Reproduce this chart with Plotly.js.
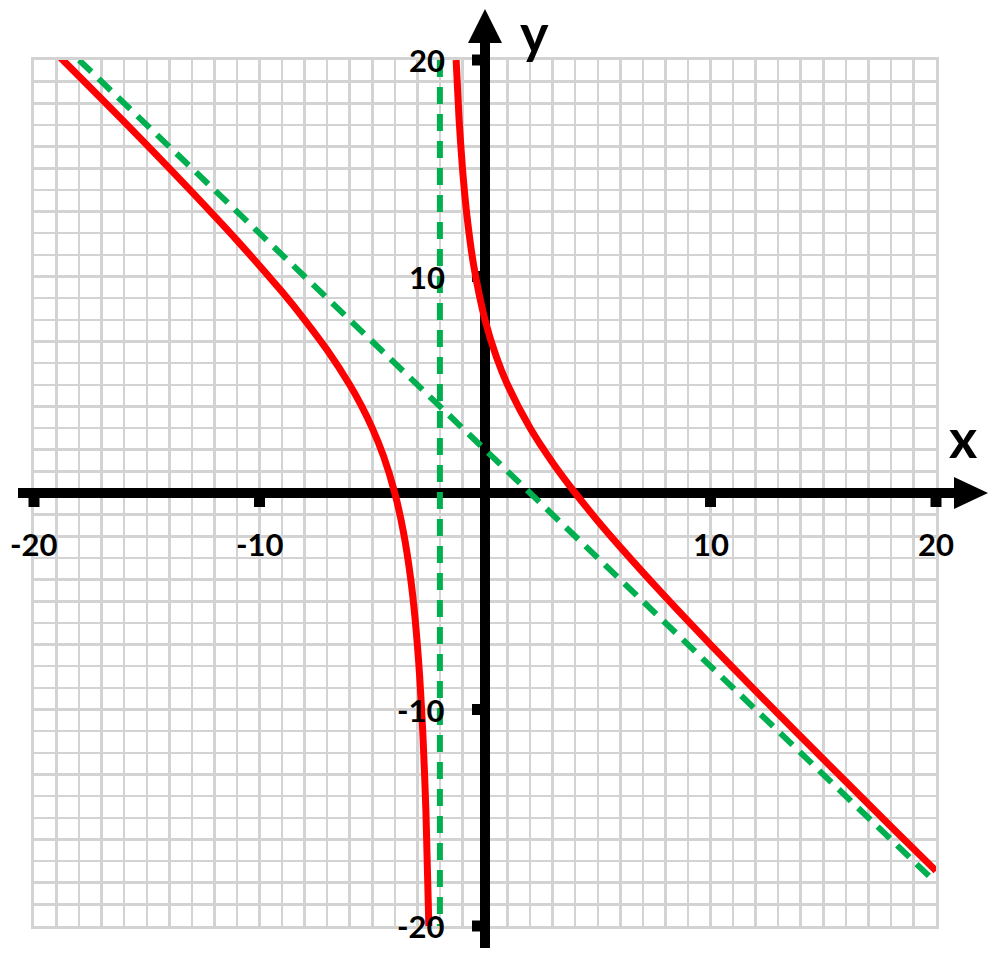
<!DOCTYPE html>
<html>
<head>
<meta charset="utf-8">
<script src="https://cdn.plot.ly/plotly-3.0.1.min.js"></script>
<style>
  html, body { margin: 0; padding: 0; background: #fff; }
  #chart { width: 1000px; height: 961px; }
</style>
</head>
<body>
<div id="chart"></div>
<script>
// values
const redLeftX  = [-19, -17, -15, -13, -11, -9, -8, -7, -6, -5.5, -5, -4.5, -4, -3.6, -3.3, -3.1, -2.9, -2.75, -2.62, -2.49];
const redLeftY  = [20.29, 18.2, 16.08, 13.91, 11.67, 9.29, 8, 6.6, 5, 4.07, 3, 1.7, 0, -1.9, -3.93, -5.81, -8.43, -11.25, -14.7, -20];
const redRightX = [-1.28, -1.15, -1, -0.8, -0.5, 0, 0.5, 1, 2, 3, 4, 5, 6, 8, 10, 12, 14, 16, 18, 20];
const redRightY = [20, 17.27, 15, 12.8, 10.5, 8, 6.3, 5, 3, 1.4, 0, -1.29, -2.5, -4.8, -7, -9.14, -11.25, -13.33, -15.4, -17.45];
const slantX = [-18, 20];
const slantY = [20, -18];
const vertX = [-2, -2];
const vertY = [20, -20];
const xTicks = [-20, -10, 10, 20];
const yTicks = [-20, -10, 10, 20];
const axisRange = [-20, 20];

const W = 902, H = 866; // plot area in px
const span = axisRange[1] - axisRange[0];
const fx = v => (v - axisRange[0]) / span;
const fy = fx;
const ox = p => p / W, oy = p => p / H;

const red = '#ff0000', green = '#00b050';
const traces = [
  {x: slantX, y: slantY, mode: 'lines', line: {color: green, width: 6, dash: '17px,10px'}},
  {x: vertX, y: vertY, mode: 'lines', line: {color: green, width: 6, dash: '17px,10px'}},
  {x: redLeftX, y: redLeftY, mode: 'lines', line: {color: red, width: 7, shape: 'spline', smoothing: 0.7}},
  {x: redRightX, y: redRightY, mode: 'lines', line: {color: red, width: 7, shape: 'spline', smoothing: 0.7}}
];

// axis parts inside the plot sit under the curves; the bits outside go on top (paper refs)
const inner = {xref: 'x', yref: 'y', layer: 'between'};
const outer = {xref: 'paper', yref: 'paper', layer: 'above'};
const blk = w => ({color: '#000', width: w});
const shapes = [
  Object.assign({type: 'line', x0: axisRange[0], x1: axisRange[1], y0: 0, y1: 0, line: blk(10)}, inner),
  Object.assign({type: 'line', x0: 0, x1: 0, y0: axisRange[0], y1: axisRange[1], line: blk(10)}, inner),
  // x axis ends + arrow
  Object.assign({type: 'line', x0: fx(-20) - ox(16), x1: fx(-20) + ox(2), y0: fy(0), y1: fy(0), line: blk(10)}, outer),
  Object.assign({type: 'line', x0: fx(20) - ox(2), x1: fx(20) + ox(20), y0: fy(0), y1: fy(0), line: blk(10)}, outer),
  Object.assign({type: 'path', path: `M${fx(20)+ox(18)},${fy(0)+oy(16)} L${fx(20)+ox(52)},${fy(0)} L${fx(20)+ox(18)},${fy(0)-oy(16)} Z`, fillcolor: '#000', line: {width: 0}}, outer),
  // y axis ends + arrow
  Object.assign({type: 'line', x0: fx(0), x1: fx(0), y0: fy(-20) - oy(22), y1: fy(-20) + oy(2), line: blk(10)}, outer),
  Object.assign({type: 'line', x0: fx(0), x1: fx(0), y0: fy(20) - oy(2), y1: fy(20) + oy(19), line: blk(10)}, outer),
  Object.assign({type: 'path', path: `M${fx(0)-ox(17)},${fy(20)+oy(17)} L${fx(0)},${fy(20)+oy(51)} L${fx(0)+ox(17)},${fy(20)+oy(17)} Z`, fillcolor: '#000', line: {width: 0}}, outer)
];
// tick stubs: edge ones outside the clip, inner ones under the curves
xTicks.forEach(t => {
  if (Math.abs(t) === 20) shapes.push(Object.assign({type: 'line', x0: fx(t), x1: fx(t), y0: fy(0), y1: fy(0) - oy(14), line: blk(11)}, outer));
  else shapes.push(Object.assign({type: 'line', x0: t, x1: t, y0: 0, y1: -oy(14) * span, line: blk(11)}, inner));
});
yTicks.forEach(t => {
  if (Math.abs(t) === 20) shapes.push(Object.assign({type: 'line', x0: fx(0), x1: fx(0) - ox(13), y0: fy(t), y1: fy(t), line: blk(11)}, outer));
  else shapes.push(Object.assign({type: 'line', x0: 0, x1: -ox(13) * span, y0: t, y1: t, line: blk(11)}, inner));
});

const tickFont = {family: 'Lato, "Open Sans", sans-serif', size: 31, color: '#000', weight: 700};
const annotations = [];
xTicks.forEach(t => annotations.push({x: t, y: 0, xref: 'x', yref: 'y', text: String(t), showarrow: false, xanchor: 'center', yanchor: 'middle', yshift: -51, font: tickFont}));
yTicks.forEach(t => annotations.push({x: 0, y: t, xref: 'x', yref: 'y', text: String(t), showarrow: false, xanchor: 'right', yanchor: 'middle', xshift: -38, font: tickFont}));
const bigFont = {family: 'Lato, "Open Sans", sans-serif', size: 54, color: '#000', weight: 700};
annotations.push({x: 20, y: 0, xref: 'x', yref: 'y', text: 'x', showarrow: false, xanchor: 'center', yanchor: 'middle', xshift: 27, yshift: 56, font: bigFont});
annotations.push({x: 0, y: 20, xref: 'x', yref: 'y', text: 'y', showarrow: false, xanchor: 'center', yanchor: 'middle', xshift: 49, yshift: 28, font: bigFont});

const gridAxis = {range: axisRange, dtick: 1, tick0: 0, showgrid: true, gridcolor: '#d3d3d3', gridwidth: 2.5,
  zeroline: false, showticklabels: false, ticks: '', showline: true, linecolor: '#d3d3d3', linewidth: 3, mirror: true, fixedrange: true};

const layout = {
  width: 1000, height: 961,
  margin: {l: 34, r: 64, t: 60, b: 35},
  paper_bgcolor: '#fff', plot_bgcolor: '#fff',
  showlegend: false,
  xaxis: Object.assign({}, gridAxis),
  yaxis: Object.assign({}, gridAxis),
  shapes: shapes,
  annotations: annotations
};

Plotly.newPlot('chart', traces, layout, {staticPlot: true, displayModeBar: false});
</script>
</body>
</html>
